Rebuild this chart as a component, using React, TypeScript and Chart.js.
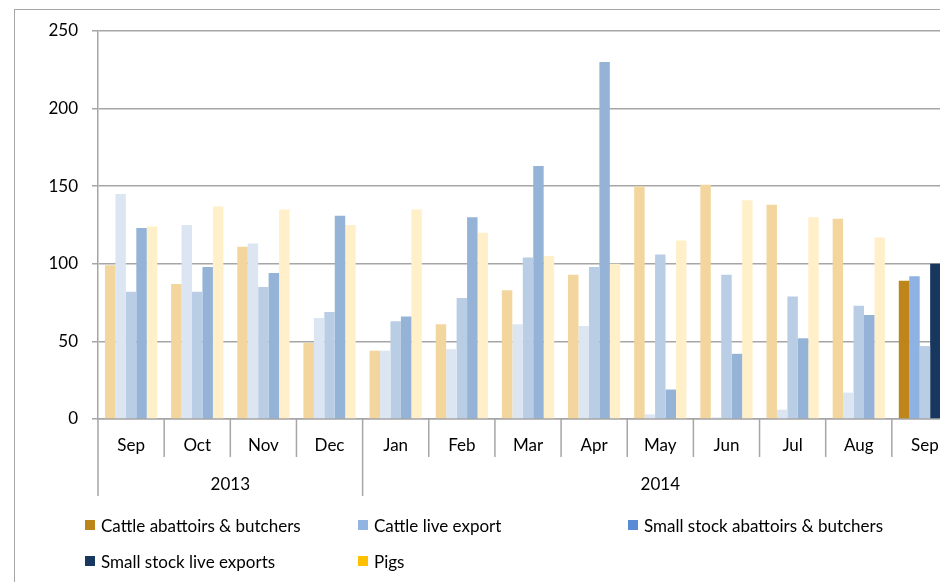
import React, { useEffect, useRef } from 'react';
import { Chart, registerables } from 'chart.js';

Chart.register(...registerables);

// ---- data ----
const months = ['Sep', 'Oct', 'Nov', 'Dec', 'Jan', 'Feb', 'Mar', 'Apr', 'May', 'Jun', 'Jul', 'Aug', 'Sep'];
const years = ['2013', '2014'];
const yearSpans = [4, 9];
const yTicks = [0, 50, 100, 150, 200, 250];

const seriesNames = [
  'Cattle abattoirs & butchers',
  'Cattle live export',
  'Small stock abattoirs & butchers',
  'Small stock live exports',
  'Pigs',
];
const cattleAbattoirs = [99, 87, 111, 49, 44, 61, 83, 93, 150, 151, 138, 129, 89];
const cattleLiveExport = [145, 125, 113, 65, 44, 45, 61, 60, 3, 1, 6, 17, 92];
const smallStockAbattoirs = [82, 82, 85, 69, 63, 78, 104, 98, 106, 93, 79, 73, 47];
const smallStockLiveExports = [123, 98, 94, 131, 66, 130, 163, 230, 19, 42, 52, 67, 100];
const pigs = [124, 137, 135, 125, 135, 120, 105, 100, 115, 141, 130, 117, 117];

// ---- styles ----
const FONT = 'Lato, "Open Sans", sans-serif';
const GRID = '#A6A6A6';
const fadedColors = ['#F3D69D', '#DCE6F2', '#B9CDE5', '#95B3D7', '#FFF0C9'];
const currentColors = ['#BE861A', '#8EB2E2', '#B9CDE5', '#17375E', '#FFF0C9'];
const legendColors = ['#BC8519', '#93B3E3', '#5A8CD6', '#17375E', '#FFC000'];

const CANVAS_W = 1000;
const CANVAS_H = 582;

const yearAxisPlugin = {
  id: 'yearAxis',
  afterDraw(chart: any) {
    const x = chart.scales.x;
    const ctx = chart.ctx;
    const n = months.length;
    const axisY = x.top;
    const boundaries = new Set<number>([0]);
    let acc = 0;
    yearSpans.forEach((s) => {
      acc += s;
      boundaries.add(acc);
    });
    ctx.save();
    ctx.strokeStyle = GRID;
    ctx.lineWidth = 1.5;
    for (let i = 0; i <= n; i++) {
      const px = x.getPixelForValue(i - 0.5);
      const bottom = boundaries.has(i) ? axisY + 77 : axisY + 38;
      ctx.beginPath();
      ctx.moveTo(px, axisY);
      ctx.lineTo(px, bottom);
      ctx.stroke();
    }
    ctx.fillStyle = '#000';
    ctx.font = `17px ${FONT}`;
    ctx.textAlign = 'center';
    ctx.textBaseline = 'middle';
    let start = 0;
    years.forEach((yr, k) => {
      const end = start + yearSpans[k];
      const l = x.getPixelForValue(start - 0.5);
      const r = x.getPixelForValue(end - 0.5);
      ctx.fillText(yr, (l + r) / 2, axisY + 66);
      start = end;
    });
    ctx.restore();
  },
};

export default function App() {
  const ref = useRef<HTMLCanvasElement>(null);

  useEffect(() => {
    if (!ref.current) return;
    const all = [cattleAbattoirs, cattleLiveExport, smallStockAbattoirs, smallStockLiveExports, pigs];
    const chart = new Chart(ref.current, {
      type: 'bar',
      data: {
        labels: months,
        datasets: all.map((d, k) => ({
          label: seriesNames[k],
          data: d,
          backgroundColor: d.map((_, i) => (i === d.length - 1 ? currentColors[k] : fadedColors[k])),
          borderWidth: 0,
          barPercentage: 1,
          categoryPercentage: 0.79,
        })),
      },
      options: {
        animation: false,
        responsive: false,
        maintainAspectRatio: false,
        devicePixelRatio: 1,
        layout: { padding: { left: 0, top: 31, right: CANVAS_W - 958, bottom: 0 } },
        plugins: { legend: { display: false }, tooltip: { enabled: false } },
        scales: {
          x: {
            type: 'category',
            offset: true,
            afterFit: (s: any) => {
              s.height = 163;
            },
            grid: { display: true, drawOnChartArea: false, drawTicks: false, offset: true },
            border: { display: true, color: GRID, width: 1.5 },
            ticks: { color: '#000', font: { family: FONT, size: 17 }, padding: 16, maxRotation: 0, autoSkip: false },
          },
          y: {
            type: 'linear',
            min: 0,
            max: 250,
            afterFit: (s: any) => {
              s.width = 98;
            },
            afterBuildTicks: (s: any) => {
              s.ticks = yTicks.map((v) => ({ value: v }));
            },
            grid: { color: GRID, lineWidth: 1.5, tickLength: 6, tickColor: GRID },
            border: { display: true, color: GRID, width: 1.5 },
            ticks: { color: '#000', font: { family: FONT, size: 17 }, padding: 14 },
          },
        },
      },
      plugins: [yearAxisPlugin],
    });
    return () => chart.destroy();
  }, []);

  const legendPos = [
    { left: 85, top: 520 },
    { left: 358, top: 520 },
    { left: 628, top: 520 },
    { left: 85, top: 556 },
    { left: 358, top: 556 },
  ];

  return (
    <div
      style={{
        position: 'fixed',
        left: 0,
        top: 0,
        width: 940,
        height: 582,
        overflow: 'hidden',
        background: '#fff',
      }}
    >
      <div
        style={{
          position: 'absolute',
          left: 14,
          top: 9,
          width: 1200,
          height: 1200,
          border: `1.5px solid ${GRID}`,
          boxSizing: 'border-box',
        }}
      />
      <canvas
        ref={ref}
        width={CANVAS_W}
        height={CANVAS_H}
        style={{ position: 'absolute', left: 0, top: 0, width: CANVAS_W, height: CANVAS_H }}
      />
      {seriesNames.map((name, k) => (
        <div
          key={name}
          style={{
            position: 'absolute',
            left: legendPos[k].left,
            top: legendPos[k].top - 5,
            height: 20,
            display: 'flex',
            alignItems: 'center',
            fontFamily: FONT,
            fontSize: 17,
            color: '#000',
            whiteSpace: 'nowrap',
          }}
        >
          <span
            style={{ display: 'inline-block', width: 10, height: 10, background: legendColors[k], marginRight: 6 }}
          />
          <span>{name}</span>
        </div>
      ))}
    </div>
  );
}
